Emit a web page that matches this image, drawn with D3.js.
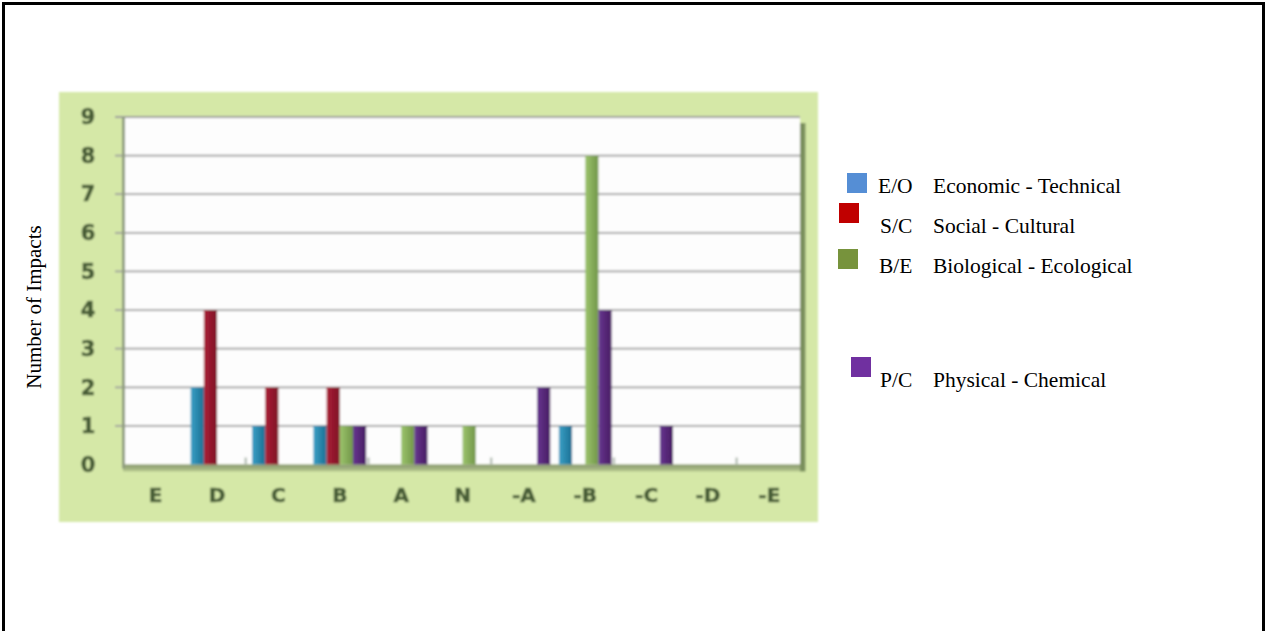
<!DOCTYPE html>
<html>
<head>
<meta charset="utf-8">
<script src="https://cdn.jsdelivr.net/npm/d3@7"></script>
<style>
  html, body { margin: 0; padding: 0; background: #ffffff; }
  svg { display: block; }
</style>
</head>
<body>
<svg id="chart" width="1267" height="631"></svg>
<script>
// Impact ratings, from strongly positive (E) to strongly negative (-E)
const categories = ["E", "D", "C", "B", "A", "N", "-A", "-B", "-C", "-D", "-E"];
const seriesKeys = ["E/O", "S/C", "B/E", "P/C"];
const seriesNames = ["Economic - Technical", "Social - Cultural", "Biological - Ecological", "Physical - Chemical"];
const economicTechnical    = [0, 2, 1, 1, 0, 0, 0, 1, 0, 0, 0];
const socialCultural       = [0, 4, 2, 2, 0, 0, 0, 0, 0, 0, 0];
const biologicalEcological = [0, 0, 0, 1, 1, 1, 0, 8, 0, 0, 0];
const physicalChemical     = [0, 0, 0, 1, 1, 0, 2, 4, 1, 0, 0];
const yTicks = [0, 1, 2, 3, 4, 5, 6, 7, 8, 9];

const seriesValues = [economicTechnical, socialCultural, biologicalEcological, physicalChemical];

// Styling
const barGrad = [
  ["#3aa0c6", "#1b6f93"],
  ["#aa1f36", "#7e1126"],
  ["#9cc46c", "#719649"],
  ["#673690", "#471c62"]
];
const legendColors = ["#558ed5", "#c00000", "#77933c", "#7030a0"];
// legend square corners and text baselines
const legendLayout = [
  { sx: 847, sy: 173, ty: 193, cx: 878 },
  { sx: 839, sy: 203, ty: 233, cx: 880 },
  { sx: 838, sy: 249, ty: 273, cx: 879 },
  { sx: 851, sy: 357, ty: 387, cx: 880 }
];

const svg = d3.select("#chart");
const defs = svg.append("defs");

barGrad.forEach((g, i) => {
  const lg = defs.append("linearGradient").attr("id", "bar" + i)
    .attr("x1", "0").attr("x2", "1").attr("y1", "0").attr("y2", "0");
  lg.append("stop").attr("offset", "0%").attr("stop-color", g[0]);
  lg.append("stop").attr("offset", "100%").attr("stop-color", g[1]);
});
defs.append("filter").attr("id", "soft")
  .attr("x", "-5%").attr("y", "-5%").attr("width", "110%").attr("height", "110%")
  .append("feGaussianBlur").attr("stdDeviation", 0.8);
const floorGrad = defs.append("linearGradient").attr("id", "floor")
  .attr("x1", "0").attr("x2", "0").attr("y1", "0").attr("y2", "1");
floorGrad.append("stop").attr("offset", "0%").attr("stop-color", "#86966c");
floorGrad.append("stop").attr("offset", "100%").attr("stop-color", "#b6c98f");

// Outer frame
svg.append("rect")
  .attr("x", 3.5).attr("y", 3.5).attr("width", 1260).attr("height", 650)
  .attr("fill", "none").attr("stroke", "#000").attr("stroke-width", 3);

// Chart panel
const panel = svg.append("g").attr("filter", "url(#soft)");
panel.append("rect")
  .attr("x", 59).attr("y", 92).attr("width", 759).attr("height", 430)
  .attr("fill", "#d5e8a7");

const plot = { left: 125, right: 800, top: 117, bottom: 464.5 };

const x0 = d3.scaleBand().domain(categories)
  .range([plot.left, plot.right]).paddingInner(0.14).paddingOuter(0.07);
const x1 = d3.scaleBand().domain(seriesKeys).range([0, x0.bandwidth()]);
const y = d3.scaleLinear().domain([0, 9]).range([plot.bottom, plot.top]);

// Plot wall
panel.append("rect")
  .attr("x", plot.left).attr("y", plot.top)
  .attr("width", plot.right - plot.left).attr("height", plot.bottom - plot.top)
  .attr("fill", "#fdfdfd");

// Floor and side wall depth
panel.append("rect")
  .attr("x", plot.left - 2).attr("y", plot.bottom)
  .attr("width", plot.right - plot.left + 7).attr("height", 7)
  .attr("fill", "url(#floor)");
panel.append("rect")
  .attr("x", plot.right).attr("y", plot.top + 6)
  .attr("width", 5.5).attr("height", plot.bottom - plot.top + 1)
  .attr("fill", "#7a8f5d");

// Gridlines
panel.append("g")
  .selectAll("line").data(yTicks.filter(d => d > 0)).join("line")
  .attr("x1", 115).attr("x2", plot.right)
  .attr("y1", d => y(d)).attr("y2", d => y(d))
  .attr("stroke", "#9c9c9c").attr("stroke-width", 1.8);

// Left axis line
panel.append("line")
  .attr("x1", plot.left - 1.5).attr("x2", plot.left - 1.5)
  .attr("y1", plot.top).attr("y2", plot.bottom + 4)
  .attr("stroke", "#8f9c7f").attr("stroke-width", 3);

// Small tick stubs on every other category boundary
const stubs = d3.range(2, categories.length, 2).map(i => plot.left + i * x0.step());
panel.append("g")
  .selectAll("line").data(stubs).join("line")
  .attr("x1", d => d - 2).attr("x2", d => d - 2)
  .attr("y1", plot.bottom - 7).attr("y2", plot.bottom)
  .attr("stroke", "#b9c2b9").attr("stroke-width", 2.5);

// Bars
const groups = panel.append("g")
  .selectAll("g").data(categories).join("g")
  .attr("transform", d => `translate(${x0(d)},0)`);
groups.selectAll("rect")
  .data((c, ci) => seriesKeys.map((k, si) => ({ key: k, si, value: seriesValues[si][ci] })).filter(d => d.value > 0))
  .join("rect")
  .attr("x", d => x1(d.key))
  .attr("width", x1.bandwidth())
  .attr("y", d => y(d.value))
  .attr("height", d => y(0) - y(d.value))
  .attr("fill", d => `url(#bar${d.si})`);

// Axis labels
const axisColor = "#475c36";
const yAxis = d3.axisLeft(y).tickValues(yTicks).tickSize(0).tickPadding(0);
const yg = panel.append("g").attr("transform", "translate(97,0)").call(yAxis);
yg.select(".domain").remove();
yg.selectAll("text")
  .attr("font-family", "'DejaVu Sans', Verdana, sans-serif")
  .attr("font-weight", "bold").attr("font-size", 21)
  .attr("fill", axisColor).attr("stroke", axisColor).attr("stroke-width", 0.6)
  .attr("text-anchor", "middle").attr("x", -9);

const xAxis = d3.axisBottom(x0).tickSize(0).tickPadding(0);
const xg = panel.append("g").attr("transform", "translate(0,488)").call(xAxis);
xg.select(".domain").remove();
xg.selectAll("text")
  .attr("font-family", "'DejaVu Sans', Verdana, sans-serif")
  .attr("font-weight", "bold").attr("font-size", 20)
  .attr("fill", axisColor).attr("stroke", axisColor).attr("stroke-width", 0.6);

// Y axis title
svg.append("text")
  .attr("transform", "translate(41,307) rotate(-90)")
  .attr("text-anchor", "middle")
  .attr("font-family", "'Liberation Serif', 'Times New Roman', serif")
  .attr("font-size", 21).attr("fill", "#000")
  .text("Number of Impacts");

// Legend
const legendFont = 21.5;
const legend = svg.append("g")
  .selectAll("g").data(seriesKeys).join("g");
legend.append("rect")
  .attr("x", (d, i) => legendLayout[i].sx).attr("y", (d, i) => legendLayout[i].sy)
  .attr("width", 20).attr("height", 20)
  .attr("fill", (d, i) => legendColors[i]);
legend.append("text")
  .attr("x", (d, i) => legendLayout[i].cx).attr("y", (d, i) => legendLayout[i].ty)
  .attr("font-family", "'Liberation Serif', 'Times New Roman', serif")
  .attr("font-size", legendFont).attr("fill", "#000")
  .text(d => d);
legend.append("text")
  .attr("x", 933).attr("y", (d, i) => legendLayout[i].ty)
  .attr("font-family", "'Liberation Serif', 'Times New Roman', serif")
  .attr("font-size", legendFont).attr("fill", "#000")
  .text((d, i) => seriesNames[i]);
</script>
</body>
</html>
